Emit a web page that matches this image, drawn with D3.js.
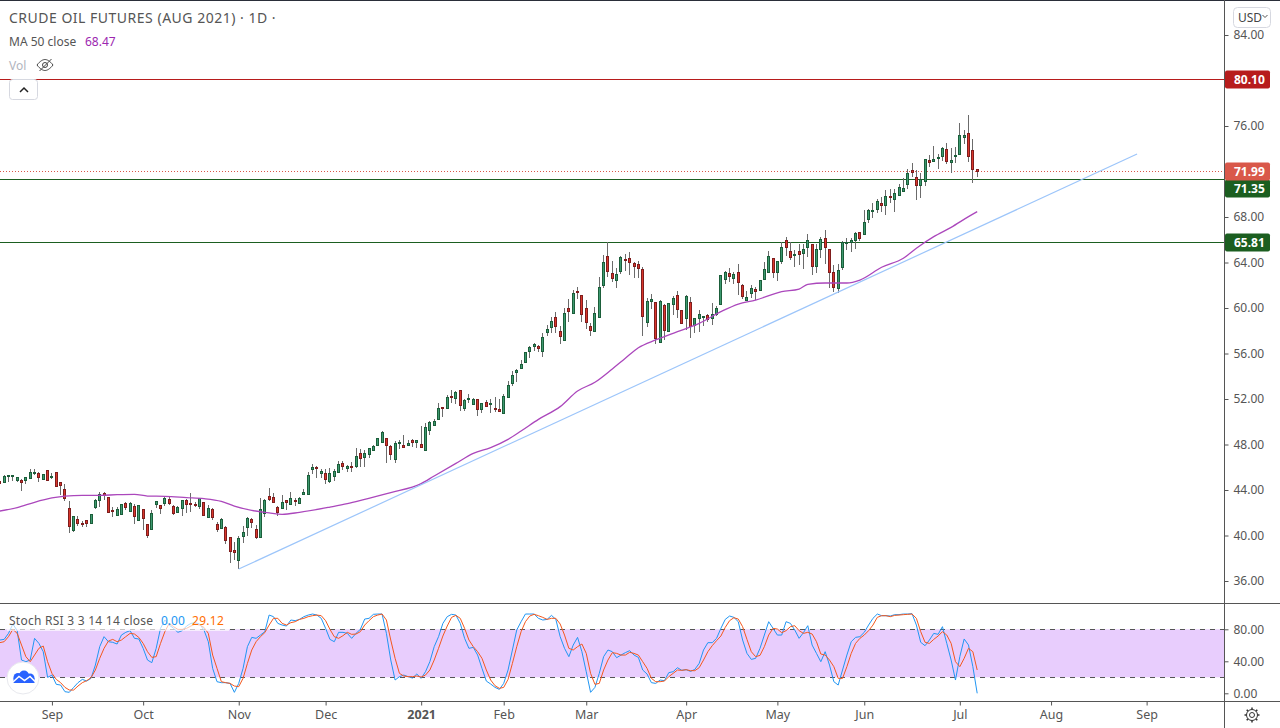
<!DOCTYPE html>
<html>
<head>
<meta charset="utf-8">
<script src="https://cdnjs.cloudflare.com/ajax/libs/d3/7.8.5/d3.min.js"></script>
<style>
html, body { margin: 0; padding: 0; background: #fff; overflow: hidden; }
svg { display: block; }
text { font-family: "Noto Sans", sans-serif; }
</style>
</head>
<body>
<svg id="chart" width="1280" height="728"></svg>
<script>
// daily candles
const opens = [
44.76,44.73,45.17,45.17,44.82,44.85,44.82,44.99,45.49,45.47,
44.97,45.73,45.14,45.55,44.67,44.06,42.39,40.43,41.45,41.07,
41.34,41.07,42.45,43.06,43.71,43.36,42.24,41.75,41.86,42.89,
42.21,42.57,41.34,42.30,40.98,40.57,42.71,42.65,42.83,43.18,
42.57,42.04,42.39,43.15,42.83,42.77,42.54,42.92,41.57,42.30,
40.98,40.60,40.78,39.84,38.70,37.82,39.90,40.72,41.42,40.54,
39.90,41.95,43.47,43.36,42.48,42.39,43.09,42.74,43.09,42.89,
43.65,43.59,45.79,45.99,45.52,45.47,44.73,45.17,45.55,46.34,
45.96,46.08,46.05,47.22,46.93,47.11,47.46,47.90,48.25,48.54,
47.84,46.67,48.10,47.93,47.90,48.40,48.25,48.02,47.49,49.30,
49.74,50.18,51.30,51.15,52.23,52.03,52.79,51.24,52.00,51.59,
51.97,51.06,51.74,51.59,51.21,51.09,50.77,52.12,53.35,54.32,
54.67,55.23,56.16,56.60,56.63,56.19,57.83,58.30,59.18,57.95,
57.13,59.97,59.53,61.50,61.12,59.97,58.39,57.92,59.15,61.97,
64.54,63.05,62.40,63.22,64.31,64.37,63.93,63.84,63.40,58.80,
60.59,60.50,56.98,60.24,57.92,60.30,61.12,59.80,59.09,60.50,
58.45,59.09,59.24,59.36,59.09,59.44,60.32,62.52,63.05,62.61,
63.14,61.99,60.73,61.26,61.64,61.53,62.49,63.11,64.37,63.11,
64.08,65.95,64.98,64.60,65.01,64.78,65.31,65.60,63.64,65.13,
66.13,65.16,63.14,61.70,63.55,65.75,65.77,65.95,66.65,66.48,
67.77,68.56,68.68,69.20,69.03,69.85,69.56,69.91,70.35,70.87,
72.10,71.49,70.76,71.14,72.98,72.87,73.22,73.34,73.95,72.78,
73.39,73.48,74.97,75.36,73.86,72.19];
const highs = [
44.76,45.32,45.32,45.29,45.17,44.94,45.17,45.85,45.85,45.61,
45.41,45.76,45.49,45.58,44.67,44.50,43.03,41.75,41.72,41.31,
41.37,41.86,43.18,43.83,43.80,43.36,42.48,42.51,42.77,42.92,
42.92,42.74,42.68,42.30,40.98,42.24,43.06,42.71,43.39,43.42,
42.65,42.57,43.15,43.21,43.74,42.95,43.33,42.95,42.65,42.45,
41.16,41.51,40.81,39.90,39.46,39.96,40.81,41.63,41.54,40.92,
43.27,43.21,44.18,43.74,42.60,43.53,43.09,43.83,43.30,43.42,
44.09,45.58,46.29,46.14,45.88,45.85,45.93,45.85,46.52,46.58,
46.23,46.46,47.66,47.58,47.49,47.72,47.93,48.54,49.22,48.54,
47.96,48.34,48.40,48.84,48.40,48.48,48.40,49.63,49.92,50.10,
50.21,51.62,51.30,52.35,52.82,52.73,52.79,52.00,52.44,52.09,
51.97,51.68,51.91,52.03,52.21,51.97,52.41,53.58,54.46,54.64,
55.40,56.16,56.69,56.95,56.75,57.77,58.48,59.21,59.62,58.42,
59.97,60.79,61.58,61.85,61.14,60.70,58.65,60.06,62.76,64.66,
65.77,64.13,63.49,64.54,64.75,64.89,64.07,64.13,63.58,60.85,
61.20,60.56,60.70,60.32,60.44,61.06,61.50,59.80,61.17,60.97,
59.15,59.83,59.30,59.44,60.41,60.21,62.90,63.25,63.49,63.20,
63.84,62.08,61.50,62.02,61.88,62.46,64.02,65.04,64.43,64.16,
65.77,66.20,65.77,65.10,65.60,65.60,66.51,65.60,65.60,66.27,
66.86,65.16,63.78,63.84,65.86,66.13,66.13,66.65,66.65,68.62,
68.68,69.26,69.56,69.73,70.35,70.46,70.43,70.90,71.40,72.19,
72.75,72.13,71.84,73.07,73.42,74.24,73.54,74.18,74.54,74.04,
74.13,76.23,75.65,76.97,74.86,72.19];
const lows = [
44.59,44.59,44.73,44.82,44.67,43.91,44.53,44.94,45.32,44.73,
44.88,44.82,44.99,44.26,43.56,43.06,40.25,40.34,40.84,40.72,
40.78,41.04,42.33,42.51,43.12,42.01,41.66,41.72,41.83,42.24,
42.19,41.04,41.31,40.49,39.81,40.49,42.42,41.92,42.60,42.71,
41.83,41.98,41.72,42.01,42.07,42.48,42.33,41.72,41.54,41.39,
40.34,40.54,39.28,37.61,37.85,37.03,39.37,39.96,40.63,39.72,
39.87,41.66,43.06,42.83,41.72,42.30,42.24,42.68,42.60,42.89,
43.62,43.56,45.41,45.09,45.03,44.53,44.65,44.76,45.52,45.79,
45.61,45.61,45.96,45.99,46.05,46.84,47.40,47.87,48.22,46.38,
46.67,46.40,47.63,47.69,47.87,47.78,47.66,47.72,47.46,48.87,
49.71,50.15,50.42,51.12,51.68,51.56,50.95,50.97,51.62,51.47,
50.48,50.80,51.33,50.80,50.83,50.89,50.65,52.06,53.17,53.53,
54.64,55.20,55.64,56.22,56.10,55.72,57.57,57.77,57.83,56.87,
57.10,58.77,59.47,60.79,58.80,58.18,57.57,57.86,59.09,61.73,
62.70,62.26,61.79,62.99,63.25,62.90,62.67,62.61,57.57,58.36,
59.91,56.87,56.95,57.16,57.86,59.39,59.09,58.57,58.07,57.39,
57.80,57.92,58.42,58.74,58.51,59.33,60.27,62.08,62.32,62.08,
61.14,60.76,60.71,60.85,60.71,61.50,62.46,63.08,62.64,62.38,
63.90,64.57,64.22,63.64,63.78,63.43,64.51,62.93,63.11,64.37,
63.90,61.79,61.44,61.35,63.34,65.10,64.95,65.22,65.92,66.42,
67.45,67.94,68.32,68.47,68.21,69.26,68.44,69.85,70.29,70.49,
71.52,69.53,69.64,70.76,72.43,72.81,72.22,72.92,72.63,71.90,
72.78,73.45,74.39,72.87,71.02,71.55];
const closes = [
44.59,45.23,45.29,45.29,45.11,44.64,45.11,45.55,45.55,45.09,
45.38,44.85,45.20,44.29,44.38,43.24,40.78,41.69,41.13,41.01,
41.04,41.86,43.09,43.62,43.50,42.01,42.19,42.30,42.74,42.54,
42.89,41.66,42.65,41.48,39.99,41.95,43.00,42.39,43.30,42.80,
41.92,42.48,43.09,42.83,42.71,42.71,43.27,41.75,42.39,41.57,
40.54,41.42,39.64,38.58,38.49,39.75,40.28,41.51,41.13,39.81,
42.36,43.09,43.24,42.89,42.01,42.92,42.89,43.27,42.97,43.33,
43.82,45.29,45.99,45.88,45.67,44.91,45.47,45.64,46.26,46.05,
46.11,45.96,46.96,46.75,47.25,47.66,47.84,48.54,49.10,47.90,
47.11,48.10,48.22,47.72,48.10,48.25,48.40,47.72,49.51,49.98,
50.07,51.18,51.24,52.15,52.12,52.59,51.50,51.91,52.09,52.00,
51.12,51.62,51.41,51.65,51.12,50.95,52.24,53.20,54.08,54.52,
55.05,56.10,56.54,56.81,56.43,57.42,58.13,58.83,58.36,57.48,
59.53,59.68,61.29,61.38,59.44,58.71,58.01,59.53,61.82,64.02,
63.22,62.58,62.96,64.45,64.19,63.99,63.66,63.49,59.24,60.62,
60.76,57.31,60.62,58.01,60.41,60.85,59.85,58.62,61.03,58.39,
59.09,59.44,59.30,58.98,59.44,59.97,62.87,63.14,62.76,62.96,
62.26,61.00,61.00,61.73,61.44,62.43,63.40,64.55,63.11,64.11,
65.34,65.31,64.43,64.72,64.78,65.16,65.95,63.64,65.16,66.04,
65.31,63.11,61.79,63.30,65.77,65.80,65.95,66.57,66.13,67.53,
68.59,68.62,69.38,69.00,69.82,69.79,70.08,70.61,70.58,71.84,
71.90,70.76,71.31,73.07,72.81,73.07,73.28,74.04,72.87,72.98,
73.45,75.18,75.18,73.34,72.19,71.99];

// MA 50, candle index and value at the bends of the line
const maIdx = [0,4,8,12,15,19,23,27,31,34,38,43,47,51,54,58,62,65,69,76,80,84,90,97,100,105,109,113,117,120,124,129,133,137,141,144,147,151,156,161,166,170,174,180,184,186,190,195,198,203,208,211,215,219,223,225];
const maVals = [42.15,42.45,42.92,43.30,43.47,43.53,43.53,43.59,43.62,43.47,43.44,43.33,43.24,43.00,42.59,42.21,41.98,41.86,42.04,42.50,42.80,43.18,43.77,44.56,45.23,46.34,47.22,47.72,48.45,49.18,50.21,51.33,52.70,53.47,54.64,55.58,56.50,57.19,57.92,58.65,59.68,60.35,60.70,61.44,61.67,62.08,62.20,62.20,62.46,63.58,64.37,65.25,66.27,67.09,68.03,68.47];

// Stoch RSI
const stochK = [
66.6,67.4,74.9,86.6,78.3,41.6,39.5,41.6,68.7,62.4,
52.0,19.9,22.8,11.2,10.3,2.0,1.2,7.4,13.3,17.4,
15.3,18.7,35.3,58.3,70.8,64.5,63.7,61.6,72.8,76.2,
78.3,68.7,67.9,56.2,41.6,38.3,56.2,81.2,91.6,85.3,
81.2,76.2,78.3,84.1,87.4,88.3,86.6,79.1,64.5,31.2,
14.5,13.3,13.3,12.4,1.2,12.4,31.2,58.3,69.9,68.7,
72.8,77.0,97.8,95.8,87.4,85.3,84.1,91.6,90.8,92.4,
95.8,97.8,99.1,97.8,93.7,81.2,67.4,64.5,76.2,76.2,
74.9,68.7,74.9,79.9,92.8,93.7,98.7,99.1,99.1,74.9,
41.6,16.6,20.8,22.8,20.8,19.1,24.1,18.7,27.0,39.5,
58.3,70.8,87.4,95.8,98.7,97.8,87.4,68.7,56.2,57.4,
47.8,31.2,15.3,11.6,7.4,4.9,12.4,29.1,54.1,79.1,
89.5,99.1,99.1,99.1,93.7,91.6,92.4,97.4,92.4,70.8,
56.2,45.8,60.3,69.9,52.0,27.0,1.2,7.4,24.9,45.8,
54.1,52.0,44.5,47.8,50.8,53.3,47.8,44.9,29.1,24.1,
13.3,12.4,16.6,15.8,25.8,27.0,32.0,28.7,29.5,27.4,
29.9,37.4,54.1,63.3,63.3,68.7,81.2,92.4,96.6,94.9,
89.5,66.6,49.9,42.4,43.7,56.2,72.8,89.5,81.2,72.8,
72.8,89.5,87.4,79.1,68.7,75.8,84.5,60.3,49.9,39.5,
52.0,35.3,14.5,10.3,29.1,47.8,64.5,69.9,70.8,76.2,
85.3,93.7,99.1,97.0,97.0,96.6,98.3,98.3,99.1,99.1,
99.5,85.3,63.7,59.5,66.6,74.9,73.7,83.3,62.4,41.6,
16.6,45.8,67.9,60.3,33.3,0];
const stochD = [
63.3,64.5,70.8,79.9,74.9,60.3,45.8,39.5,47.8,56.2,
59.1,39.5,24.9,17.4,13.3,7.4,4.1,4.1,9.1,13.3,
15.8,19.5,29.1,43.7,56.2,65.3,67.4,64.5,66.6,70.8,
74.9,74.1,69.9,62.4,52.0,44.9,45.8,62.4,77.0,87.4,
83.3,79.9,79.9,81.2,84.1,86.6,85.3,82.4,74.9,47.8,
31.2,14.5,13.3,12.4,9.1,8.3,18.7,37.4,54.1,64.5,
70.8,75.8,85.3,93.7,93.7,87.4,85.3,88.3,89.5,92.4,
93.7,95.8,97.0,97.8,97.0,90.8,79.9,70.8,68.7,72.0,
76.2,73.7,74.1,77.0,85.3,90.8,95.8,97.8,99.1,91.6,
66.6,43.7,24.9,21.6,20.8,20.8,21.6,20.3,22.8,29.1,
41.6,56.2,71.6,84.1,94.9,97.4,93.7,81.2,66.6,58.3,
52.0,43.7,29.1,16.6,9.5,6.2,7.4,17.4,37.4,58.3,
77.0,89.5,96.6,98.7,97.0,94.9,92.4,93.7,93.7,86.6,
72.8,56.2,54.1,58.3,61.6,49.9,24.9,11.2,12.4,29.1,
41.6,50.8,49.9,47.8,47.8,51.2,49.9,47.8,39.5,31.2,
18.7,14.5,14.5,15.3,20.8,24.9,29.1,28.7,29.5,28.3,
28.3,32.0,41.6,52.0,59.5,65.8,71.6,82.4,90.8,94.5,
92.8,83.3,67.4,52.0,45.8,47.4,58.3,72.8,81.2,80.3,
75.8,78.3,83.3,84.5,78.3,74.9,76.2,74.1,64.5,49.1,
47.8,41.6,33.3,18.7,18.7,33.3,49.9,62.4,68.7,72.8,
78.3,85.3,94.9,97.0,97.0,95.8,97.4,97.8,98.3,98.7,
99.1,93.7,77.0,63.7,62.4,67.4,71.6,77.0,72.8,62.4,
39.5,33.3,43.7,56.2,52.0,29.12];

// trend line ends, candle index and price
const trendIdx = [55, 261.8];
const trendVals = [37.05, 73.54];

// horizontal levels
const levelVals = [80.10, 71.35, 65.81];
const levelCols = ["#b71c1c", "#1b5e20", "#1b5e20"];
const lastClose = 71.99;

const priceTicks = [84, 76, 68, 64, 60, 56, 52, 48, 44, 40, 36];
const stochTicks = [80, 40, 0];
const timeIdx = [12, 33, 55, 75, 97, 116, 135, 158, 179, 199, 221, 242, 264];
const timeLabels = ["Sep", "Oct", "Nov", "Dec", "2021", "Feb", "Mar", "Apr", "May", "Jun", "Jul", "Aug", "Sep"];

const axisX = 1224.5;
const svg = d3.select("#chart");
const x = d3.scaleLinear().domain([0, 225]).range([-0.2, 977.2]);
const y = d3.scaleLinear().domain([36, 84]).range([581, 35]);
const yS = d3.scaleLinear().domain([0, 80]).range([693.3, 629.3]);
const snap = v => Math.round(v) + 0.5;
const snapX = i => Math.floor(x(i)) + 0.5;

svg.append("rect").attr("width", 1280).attr("height", 1).attr("fill", "#2a2e39");

// levels under the candles
levelVals.forEach((v, i) => {
    svg.append("line").attr("x1", 0).attr("x2", axisX)
        .attr("y1", snap(y(v))).attr("y2", snap(y(v)))
        .attr("stroke", levelCols[i]).attr("stroke-width", 1);
});
svg.append("line").attr("x1", 0).attr("x2", axisX)
    .attr("y1", Math.floor(y(lastClose)) + 0.5).attr("y2", Math.floor(y(lastClose)) + 0.5)
    .attr("stroke", "#d9584a").attr("stroke-dasharray", "1,2");

// candles
const idx = d3.range(closes.length);
svg.append("g").selectAll("line").data(idx).join("line")
    .attr("x1", snapX).attr("x2", snapX)
    .attr("y1", i => y(highs[i])).attr("y2", i => y(lows[i]))
    .attr("stroke", "#6b6b6b").attr("shape-rendering", "crispEdges");
svg.append("g").selectAll("rect").data(idx).join("rect")
    .attr("x", i => snapX(i) - 1).attr("width", 2)
    .attr("y", i => Math.round(y(Math.max(opens[i], closes[i]))) + 0.5)
    .attr("height", i => Math.max(1, Math.round(Math.abs(y(opens[i]) - y(closes[i])))))
    .attr("fill", i => closes[i] >= opens[i] ? "#3d9970" : "#d9362b")
    .attr("stroke", i => closes[i] >= opens[i] ? "#1b5e3a" : "#7f1d1d")
    .attr("shape-rendering", "crispEdges");

// MA 50
svg.append("path").attr("fill", "none").attr("stroke", "#ab47bc").attr("stroke-width", 1.3)
    .attr("d", d3.line().curve(d3.curveMonotoneX).x(i => x(maIdx[i])).y(i => y(maVals[i]))(d3.range(maIdx.length)));

// trend line
svg.append("path").attr("fill", "none").attr("stroke", "#9cc5fa").attr("stroke-width", 1.2)
    .attr("d", d3.line().x(i => x(trendIdx[i])).y(i => y(trendVals[i]))([0, 1]));

// stoch panel
svg.append("rect").attr("x", 0).attr("width", axisX)
    .attr("y", yS(80)).attr("height", yS(20) - yS(80)).attr("fill", "#e8cdfd");
[80, 20].forEach(v => {
    svg.append("line").attr("x1", 0).attr("x2", axisX)
        .attr("y1", snap(yS(v))).attr("y2", snap(yS(v)))
        .attr("stroke", "#555").attr("stroke-dasharray", "5,5");
});
svg.append("path").attr("fill", "none").attr("stroke", "#2196f3").attr("stroke-width", 1)
    .attr("d", d3.line().x(i => x(i)).y(i => yS(stochK[i]))(idx));
svg.append("path").attr("fill", "none").attr("stroke", "#f4581e").attr("stroke-width", 1)
    .attr("d", d3.line().x(i => x(i)).y(i => yS(stochD[i]))(idx));

// legend back plate of the stoch panel
svg.append("rect").attr("x", 7).attr("y", 611).attr("width", 222).attr("height", 20)
    .attr("fill", "#fff").attr("opacity", 0.65);

// panel borders
svg.append("line").attr("x1", 0).attr("x2", 1280).attr("y1", 603.5).attr("y2", 603.5).attr("stroke", "#555");
svg.append("line").attr("x1", 0).attr("x2", 1280).attr("y1", 701.5).attr("y2", 701.5).attr("stroke", "#555");
svg.append("line").attr("x1", axisX).attr("x2", axisX).attr("y1", 0).attr("y2", 728).attr("stroke", "#555");

// axes
const gy = svg.append("g").attr("transform", "translate(" + axisX + ",0)")
    .call(d3.axisRight(y).tickValues(priceTicks).tickFormat(d3.format(".2f")).tickSize(4).tickPadding(5));
const gs = svg.append("g").attr("transform", "translate(" + axisX + ",0)")
    .call(d3.axisRight(yS).tickValues(stochTicks).tickFormat(d3.format(".2f")).tickSize(4).tickPadding(5));
const gx = svg.append("g").attr("transform", "translate(0,701.5)")
    .call(d3.axisBottom(x).tickValues(timeIdx).tickFormat((d, i) => timeLabels[i]).tickSize(4).tickPadding(5));
[gy, gs, gx].forEach(g => {
    g.select(".domain").remove();
    g.selectAll("line").attr("stroke", "#555");
    g.selectAll("text").attr("fill", "#555").attr("font-size", 12)
        .attr("font-family", "'Noto Sans', sans-serif");
});
gx.selectAll("text").attr("font-size", 12.5)
    .attr("font-weight", d => d === 97 ? 700 : 400);

// level labels on the axis
function tag(value, labelY, col) {
    const g = svg.append("g");
    g.append("rect").attr("x", axisX + 0.5).attr("y", labelY - 9).attr("width", 45).attr("height", 18)
        .attr("rx", 2).attr("fill", col);
    g.append("text").attr("x", 1234).attr("y", labelY + 4.5).attr("fill", "#fff")
        .attr("font-size", 12).attr("font-weight", 700).text(value.toFixed(2));
}
tag(80.10, 79.5, "#b71c1c");
tag(65.81, 242.5, "#1b5e20");
tag(71.35, 188.5, "#1b5e20");
tag(lastClose, 171.5, "#d9584a");

// USD button
svg.append("rect").attr("x", 1233.5).attr("y", 7.5).attr("width", 37).attr("height", 20).attr("rx", 4)
    .attr("fill", "#fff").attr("stroke", "#d6d8e0");
svg.append("text").attr("x", 1238).attr("y", 21.5).attr("font-size", 12).attr("fill", "#444").text("USD");
svg.append("path").attr("d", "M1262.5 15l2.5 2.5 2.5-2.5").attr("fill", "none").attr("stroke", "#555");

// legends
function label(px, py, txt, size, col, spacing) {
    return svg.append("text").attr("x", px).attr("y", py).attr("font-size", size).attr("fill", col)
        .attr("letter-spacing", spacing || 0).text(txt);
}
label(9, 23, "CRUDE OIL FUTURES (AUG 2021) · 1D ·", 14, "#555", 0.5);
label(9, 46, "MA 50 close", 12, "#555");
label(85, 46, "68.47", 12, "#9c27b0");
label(9, 70, "Vol", 12, "#b2b5be");
label(9, 625, "Stoch RSI 3 3 14 14 close", 12, "#555", 0.25);
label(161, 625, "0.00", 12, "#2196f3");
label(192, 625, "29.12", 12, "#ff6d00", 0.3);

// eye off icon
const eye = svg.append("g").attr("fill", "none").attr("stroke", "#444").attr("stroke-width", 1);
eye.append("path").attr("d", "M37 65c3-4 6-5.500 8-5.500s5 1.500 8 5.500c-3 4-6 5.500-8 5.500s-5-1.500-8-5.500z");
eye.append("circle").attr("cx", 45).attr("cy", 65).attr("r", 2.5);
eye.append("path").attr("d", "M39.500 71l12-12");

// collapse button
svg.append("rect").attr("x", 9.5).attr("y", 79.5).attr("width", 28).attr("height", 20).attr("rx", 3)
    .attr("fill", "#fff").attr("stroke", "#d6d8e0");
svg.append("path").attr("d", "M20 92l4-4 4 4").attr("fill", "none").attr("stroke", "#222").attr("stroke-width", 1.5);

// logo
svg.append("circle").attr("cx", 23).attr("cy", 678).attr("r", 16).attr("fill", "#fff").attr("stroke", "#e8e9ee");
const logo = svg.append("g").attr("fill", "#2962ff");
logo.append("circle").attr("cx", 18).attr("cy", 677.5).attr("r", 4.5);
logo.append("circle").attr("cx", 24).attr("cy", 675.5).attr("r", 5);
logo.append("circle").attr("cx", 30).attr("cy", 678).attr("r", 4.5);
logo.append("rect").attr("x", 13.5).attr("y", 678).attr("width", 21).attr("height", 5);
svg.append("path").attr("d", "M13 682l6-5.500 5.500 4 5.500-4 5 5")
    .attr("fill", "none").attr("stroke", "#fff").attr("stroke-width", 1.5);

// settings gear
const gear = svg.append("g").attr("transform", "translate(1252,715)").attr("fill", "none").attr("stroke", "#333");
gear.append("circle").attr("r", 2.5);
gear.append("circle").attr("r", 5.5);
d3.range(8).forEach(k => {
    const a = k * Math.PI / 4;
    gear.append("line").attr("x1", 5.5 * Math.cos(a)).attr("y1", 5.5 * Math.sin(a))
        .attr("x2", 7.5 * Math.cos(a)).attr("y2", 7.5 * Math.sin(a)).attr("stroke-width", 1.5);
});
</script>
</body>
</html>
